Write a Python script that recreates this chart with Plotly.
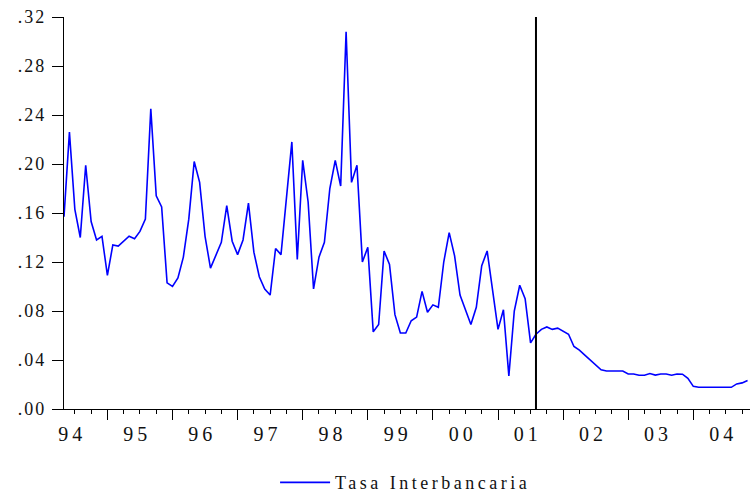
import plotly.graph_objects as go

# Monthly interbank rate, 1994:01 - 2004:07 (month index 0 = 1994:01)
tasa_interbancaria = [
    0.157, 0.226, 0.163, 0.140, 0.199, 0.153, 0.138, 0.141, 0.109, 0.134, 0.133, 0.137,
    0.141, 0.139, 0.145, 0.155, 0.245, 0.174, 0.165, 0.103, 0.100, 0.107, 0.124, 0.155,
    0.202, 0.185, 0.141, 0.115, 0.125, 0.136, 0.166, 0.137, 0.126, 0.138, 0.168, 0.128,
    0.108, 0.098, 0.093, 0.131, 0.126, 0.174, 0.218, 0.122, 0.203, 0.169, 0.098, 0.124,
    0.136, 0.180, 0.203, 0.182, 0.308, 0.185, 0.199, 0.120, 0.132, 0.063, 0.069, 0.129,
    0.118, 0.077, 0.062, 0.062, 0.072, 0.075, 0.096, 0.079, 0.085, 0.083, 0.120, 0.144,
    0.125, 0.093, 0.081, 0.069, 0.083, 0.117, 0.129, 0.098, 0.065, 0.081, 0.027, 0.080,
    0.101, 0.090, 0.054, 0.061, 0.065, 0.067, 0.065, 0.066, 0.0635, 0.061, 0.051, 0.048,
    0.044, 0.040, 0.036, 0.032, 0.031, 0.031, 0.031, 0.031, 0.0286, 0.0286, 0.0275, 0.0275,
    0.029, 0.0277, 0.0286, 0.0286, 0.0276, 0.0286, 0.0284, 0.025, 0.0185, 0.0177, 0.0177, 0.0177,
    0.0177, 0.0177, 0.0177, 0.0177, 0.0205, 0.0213, 0.0232,
]
months = list(range(len(tasa_interbancaria)))

year_labels = ["94", "95", "96", "97", "98", "99", "00", "01", "02", "03", "04"]
label_pos = [1.5 + 12 * k for k in range(len(year_labels))]
major_ticks = [8 + 12 * k for k in range(11)]
minor_ticks = [2 + 3 * k for k in range(43)]

y_ticks = [0.0, 0.04, 0.08, 0.12, 0.16, 0.20, 0.24, 0.28, 0.32]
y_ticktext = [".00", ".04", ".08", ".12", ".16", ".20", ".24", ".28", ".32"]

break_month = 87  # 2001:04
x_range = [0, 126.45]
y_range = [0, 0.32]

FONT = "Liberation Serif"

fig = go.Figure()
fig.add_trace(go.Scatter(
    x=months, y=tasa_interbancaria, mode="lines",
    line=dict(color="#0000FF", width=1.6),
    name="Tasa Interbancaria", xaxis="x", yaxis="y",
))
fig.add_trace(go.Scatter(
    x=[break_month, break_month], y=y_range, mode="lines",
    line=dict(color="black", width=2), showlegend=False, hoverinfo="skip",
    xaxis="x2", yaxis="y",
))

fig.update_layout(
    width=750, height=494,
    margin=dict(l=64, r=0, t=17, b=85, autoexpand=False),
    paper_bgcolor="white", plot_bgcolor="white",
    font=dict(family=FONT, color="#111111"),
    xaxis=dict(
        range=x_range, tickmode="array", tickvals=label_pos, ticktext=year_labels,
        ticks="", showline=False, showgrid=False, zeroline=False, automargin=False,
        tickfont=dict(family=FONT, size=20, color="#111111"),
        ticklabelstandoff=11,
    ),
    xaxis2=dict(
        range=x_range, overlaying="x", anchor="y", side="bottom",
        tickmode="array", tickvals=major_ticks, ticks="outside", ticklen=10,
        tickwidth=1.3, tickcolor="black", showticklabels=False,
        showline=True, linecolor="black", linewidth=1.3,
        showgrid=False, zeroline=False, automargin=False,
        minor=dict(tickmode="array", tickvals=minor_ticks, ticks="outside",
                   ticklen=4, tickwidth=1.3, tickcolor="black", showgrid=False),
    ),
    yaxis=dict(
        range=y_range, tickmode="array", tickvals=y_ticks, ticktext=y_ticktext,
        ticks="outside", ticklen=11, tickwidth=1.3, tickcolor="black",
        showline=True, linecolor="black", linewidth=1.3,
        showgrid=False, zeroline=False, automargin=False,
        tickfont=dict(family=FONT, size=18, color="#111111"),
        ticklabelstandoff=2,
    ),
    showlegend=True,
    legend=dict(
        orientation="h", x=0.452, xanchor="center", y=-0.188, yanchor="middle",
        font=dict(family=FONT, size=18, color="#111111"),
        bgcolor="rgba(0,0,0,0)", itemwidth=50,
    ),
)

post = """
document.body.style.margin = '0';
var gd = document.getElementById('{plot_id}');
gd.querySelectorAll('.xtick text').forEach(function(t){ t.style.letterSpacing = '4px'; });
gd.querySelectorAll('.ytick text').forEach(function(t){ t.style.letterSpacing = '2px'; });
gd.querySelectorAll('.legendtext').forEach(function(t){ t.style.letterSpacing = '3.5px'; });
gd.querySelectorAll('.legend .scrollbox, .legend [clip-path]').forEach(function(e){ e.removeAttribute('clip-path'); });
"""
fig.write_html("out.html", post_script=post, config={"displayModeBar": False})
